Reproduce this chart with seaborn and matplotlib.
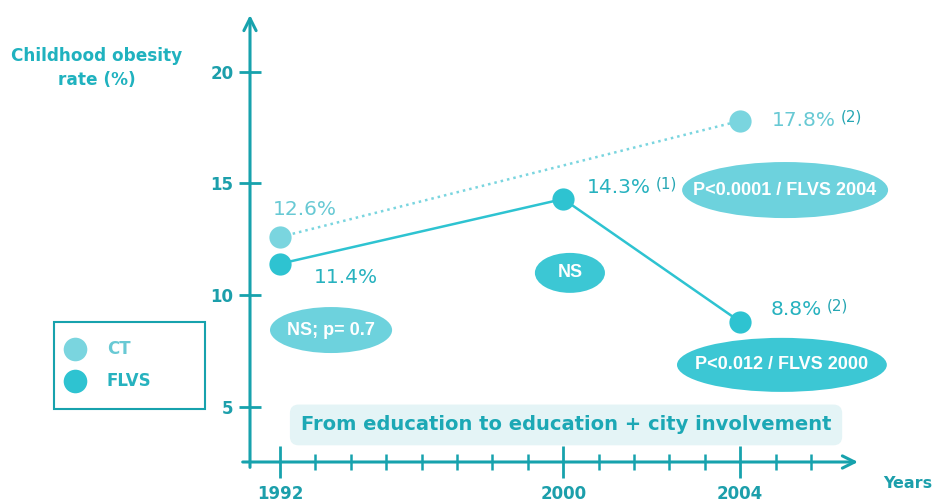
import matplotlib
matplotlib.use("Agg")
import matplotlib.pyplot as plt
import seaborn as sns
import pandas as pd
from matplotlib.patches import Ellipse
from matplotlib.lines import Line2D

# ---- data -------------------------------------------------------------
ct_years = [1992, 2004]
ct_rates = [12.6, 17.8]
ct_notes = ["", "(2)"]

flvs_years = [1992, 2000, 2004]
flvs_rates = [11.4, 14.3, 8.8]
flvs_notes = ["", "(1)", "(2)"]

year_labels = [1992, 2000, 2004]
y_ticks = [5, 10, 15, 20]

comparisons = ["NS; p= 0.7", "NS", "P<0.0001 / FLVS 2004", "P<0.012 / FLVS 2000"]
banner_text = "From education to education + city involvement"

# ---- layout ------------------------------------------------------------
# horizontal axis is a schematic timeline: one step per tick mark
year_slot = {1992: 0, 2000: 8, 2004: 13}
minor_slots = [s for s in range(16) if s not in year_slot.values()]

AXIS = "#17a2ad"
TICKLAB = "#1c9fab"
TITLE = "#20b2bf"
CT_MARK = "#7ad5df"
FLVS_MARK = "#2ec3d1"
CT_TEXT = "#68c9d4"
FLVS_TEXT = "#27b2bf"
NOTE = "#26a6b3"
CT_OVAL = "#6dd2dd"
FLVS_OVAL = "#3cc7d4"

sns.set_style("white")
plt.rcParams["font.family"] = ["DejaVu Sans"]

W, H = 938, 504
fig = plt.figure(figsize=(W / 100, H / 100), dpi=100)
ax_left, ax_right, ax_top, ax_bottom = 250, 858, 15, 462
ax = fig.add_axes([ax_left / W, (H - ax_bottom) / H,
                   (ax_right - ax_left) / W, (ax_bottom - ax_top) / H])
ax.set_xlim(-0.85, 16.33)
ax.set_ylim(2.52, 22.54)
for sp in ax.spines.values():
    sp.set_visible(False)

# axes drawn as arrows
ax.annotate("", xy=(1.0, 0), xytext=(-0.012, 0), xycoords="axes fraction",
            arrowprops=dict(arrowstyle="->", lw=2.2, color=AXIS,
                            mutation_scale=22, shrinkA=0, shrinkB=0))
ax.annotate("", xy=(0, 1.0), xytext=(0, -0.012), xycoords="axes fraction",
            arrowprops=dict(arrowstyle="->", lw=2.2, color=AXIS,
                            mutation_scale=22, shrinkA=0, shrinkB=0))

ax.set_xticks([year_slot[y] for y in year_labels])
ax.set_xticklabels([str(y) for y in year_labels])
ax.set_xticks(minor_slots, minor=True)
ax.set_yticks(y_ticks)
ax.set_yticklabels([str(v) for v in y_ticks])
ax.tick_params(axis="x", which="both", bottom=True)
ax.tick_params(axis="y", which="both", left=True)
ax.tick_params(axis="x", which="major", direction="inout", length=23, width=2,
               color=AXIS, labelcolor=TICKLAB, labelsize=12, pad=5)
ax.tick_params(axis="x", which="minor", direction="inout", length=12, width=1.8,
               color=AXIS)
ax.tick_params(axis="y", which="major", direction="inout", length=16, width=2,
               color=AXIS, labelcolor=TICKLAB, labelsize=12, pad=4)
for lab in ax.get_xticklabels() + ax.get_yticklabels():
    lab.set_fontweight("bold")

# ---- series -------------------------------------------------------------
ct_df = pd.DataFrame({"slot": [year_slot[y] for y in ct_years], "rate": ct_rates})
flvs_df = pd.DataFrame({"slot": [year_slot[y] for y in flvs_years], "rate": flvs_rates})

sns.lineplot(data=ct_df, x="slot", y="rate", ax=ax, color=CT_MARK,
             linestyle=(0, (1, 1.6)), linewidth=1.8, marker="o", markersize=16,
             markeredgewidth=0, markerfacecolor=CT_MARK, zorder=3)
sns.lineplot(data=flvs_df, x="slot", y="rate", ax=ax, color=FLVS_MARK,
             linestyle="-", linewidth=1.8, marker="o", markersize=16,
             markeredgewidth=0, markerfacecolor=FLVS_MARK, zorder=4)
ax.set_xlabel("")
ax.set_ylabel("")


def value_label(year, rate, note, dx, dy, color, ha="left"):
    t = ax.annotate(f"{rate:.1f}%", (year_slot[year], rate), xytext=(dx, dy),
                    textcoords="offset pixels", ha=ha, va="center",
                    fontsize=14.5, color=color, zorder=6)
    if note:
        ax.annotate(note, xy=(1, 1), xycoords=t, xytext=(5, 2),
                    textcoords="offset pixels", ha="left", va="top",
                    fontsize=11, color=NOTE)


ct_offsets = [(25, 27, "center"), (32, 0, "left")]
flvs_offsets = [(66, -14, "center"), (24, 11, "left"), (30, 12, "left")]
for yr, r, n, (dx, dy, ha) in zip(ct_years, ct_rates, ct_notes, ct_offsets):
    value_label(yr, r, n, dx, dy, CT_TEXT, ha)
for yr, r, n, (dx, dy, ha) in zip(flvs_years, flvs_rates, flvs_notes, flvs_offsets):
    value_label(yr, r, n, dx, dy, FLVS_TEXT, ha)

# ---- comparison ovals ----------------------------------------------------
ovals = [
    (1.44, 8.43, 3.45, 2.06, CT_OVAL),
    (8.19, 10.99, 1.98, 1.79, FLVS_OVAL),
    (14.27, 14.70, 5.82, 2.51, CT_OVAL),
    (14.18, 6.87, 5.93, 2.42, FLVS_OVAL),
]
for text, (cx, cy, w, h, col) in zip(comparisons, ovals):
    ax.add_patch(Ellipse((cx, cy), w, h, facecolor=col, edgecolor="none",
                         zorder=2, clip_on=False))
    ax.text(cx, cy, text, ha="center", va="center", color="white",
            fontsize=13, fontweight="bold", family="Liberation Sans",
            zorder=3, clip_on=False)

# ---- banner ---------------------------------------------------------------
ax.text(8.08, 4.18, banner_text, ha="center", va="center", fontsize=14,
        fontweight="bold", color="#1ca8b5", zorder=3,
        bbox=dict(boxstyle="round,pad=0.56,rounding_size=0.45",
                  facecolor="#e4f4f6", edgecolor="none"))

# ---- titles -----------------------------------------------------------------
fig.text(97 / W, 1 - 68 / H, "Childhood obesity\nrate (%)", ha="center",
         va="center", fontsize=12.2, fontweight="bold", color=TITLE,
         linespacing=1.45)
fig.text(908 / W, 1 - 484 / H, "Years", ha="center", va="center",
         fontsize=11.5, fontweight="bold", color=TICKLAB)

# ---- legend ---------------------------------------------------------------
handles = [
    Line2D([], [], ls="none", marker="o", markersize=17, markeredgewidth=0,
           color=CT_MARK),
    Line2D([], [], ls="none", marker="o", markersize=17, markeredgewidth=0,
           color=FLVS_MARK),
]
leg = fig.legend(handles, ["CT", "FLVS"], loc="upper left",
                 bbox_to_anchor=(54 / W, (H - 322) / H, 151 / W, 0),
                 mode="expand", borderaxespad=0, borderpad=1.1,
                 handlelength=0.32, handleheight=0.7, handletextpad=1.76,
                 labelspacing=0.84, fancybox=False, framealpha=1,
                 edgecolor=AXIS, prop={"size": 12, "weight": "bold"})
leg.get_frame().set_linewidth(1.5)
for txt, col in zip(leg.get_texts(), [CT_TEXT, FLVS_TEXT]):
    txt.set_color(col)

fig.savefig("out.png", dpi=100)
